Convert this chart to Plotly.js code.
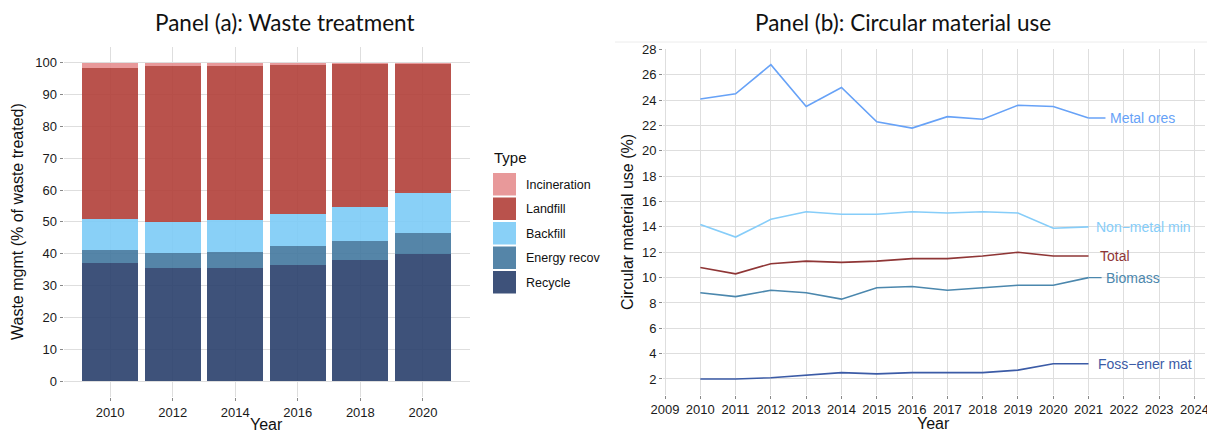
<!DOCTYPE html>
<html>
<head>
<meta charset="utf-8">
<script src="https://cdn.plot.ly/plotly-3.0.1.min.js"></script>
<style>
  html, body { margin: 0; padding: 0; background: #ffffff; }
  #chart { width: 1207px; height: 432px; }
</style>
</head>
<body>
<div id="chart"></div>
<script>
// ---- Panel (a): waste treatment shares (% of waste treated) ----
const wasteYears = [2010, 2012, 2014, 2016, 2018, 2020];
const recycle      = [37.0, 35.4, 35.4, 36.5, 37.9, 39.9];
const energyRecov  = [4.1, 4.7, 5.0, 5.9, 6.0, 6.5];
const backfill     = [9.8, 10.0, 10.3, 10.2, 10.9, 12.7];
const landfill     = [47.4, 48.8, 48.3, 46.8, 44.7, 40.6];
const incineration = [1.7, 1.1, 1.0, 0.6, 0.5, 0.3];
const wasteTypes = ["Incineration", "Landfill", "Backfill", "Energy recov", "Recycle"];

// ---- Panel (b): circular material use rate (%) ----
const cmuYears = [2010, 2011, 2012, 2013, 2014, 2015, 2016, 2017, 2018, 2019, 2020, 2021];
const metalOres   = [24.1, 24.5, 26.8, 23.5, 25.0, 22.3, 21.8, 22.7, 22.5, 23.6, 23.5, 22.6];
const nonMetalMin = [14.2, 13.2, 14.6, 15.2, 15.0, 15.0, 15.2, 15.1, 15.2, 15.1, 13.9, 14.0];
const totalCmu    = [10.8, 10.3, 11.1, 11.3, 11.2, 11.3, 11.5, 11.5, 11.7, 12.0, 11.7, 11.7];
const biomass     = [8.8, 8.5, 9.0, 8.8, 8.3, 9.2, 9.3, 9.0, 9.2, 9.4, 9.4, 10.0];
const fossEnerMat = [2.0, 2.0, 2.1, 2.3, 2.5, 2.4, 2.5, 2.5, 2.5, 2.7, 3.2, 3.2];
const materialNames = ["Metal ores", "Non\u2212metal min", "Total", "Biomass", "Foss\u2212ener mat"];

// ---- styling ----
const W = 1207, H = 432;
const px = v => v / W;             // horizontal pixel -> paper fraction
const py = v => (H - v) / H;       // vertical pixel (from top) -> paper fraction
const FONT = "Liberation Sans, Arial, sans-serif";
const TITLE_FONT = "Lato, Open Sans, sans-serif";
const GRID = "#dedede";

const wasteColors = {
  "Incineration": "rgba(229,142,143,0.9)",
  "Landfill":     "rgba(177,63,57,0.9)",
  "Backfill":     "rgba(124,203,246,0.9)",
  "Energy recov": "rgba(66,120,158,0.9)",
  "Recycle":      "rgba(41,63,107,0.9)"
};
const wasteSeries = {
  "Incineration": incineration,
  "Landfill": landfill,
  "Backfill": backfill,
  "Energy recov": energyRecov,
  "Recycle": recycle
};

const lineColors = {
  "Metal ores": "#67a2f7",
  "Non\u2212metal min": "#86cdf9",
  "Total": "#8f3636",
  "Biomass": "#4b87ad",
  "Foss\u2212ener mat": "#3b5ba6"
};
const lineSeries = {
  "Metal ores": metalOres,
  "Non\u2212metal min": nonMetalMin,
  "Total": totalCmu,
  "Biomass": biomass,
  "Foss\u2212ener mat": fossEnerMat
};
// label placement to the right of the last point (years of offset) and leader length
const labelShift = {
  "Metal ores": 0.55, "Non\u2212metal min": 0.16, "Total": 0.27,
  "Biomass": 0.44, "Foss\u2212ener mat": 0.21
};
const leaderEnd = { "Metal ores": 2021.48, "Biomass": 2021.37 };

const traces = [];
// stacked bars, bottom to top
["Recycle", "Energy recov", "Backfill", "Landfill", "Incineration"].forEach(name => {
  traces.push({
    type: "bar", name: name, x: wasteYears, y: wasteSeries[name],
    width: 1.8, marker: { color: wasteColors[name], line: { width: 0 } },
    xaxis: "x", yaxis: "y", showlegend: false, hoverinfo: "x+y+name"
  });
});
// lines
materialNames.forEach(name => {
  traces.push({
    type: "scatter", mode: "lines", name: name, x: cmuYears, y: lineSeries[name],
    line: { color: lineColors[name], width: 1.6 },
    xaxis: "x2", yaxis: "y2", showlegend: false
  });
});

const annotations = [];
const shapes = [];

// titles
annotations.push({ text: "Panel (a): Waste treatment", xref: "paper", yref: "paper",
  x: px(285), y: py(23), xanchor: "center", yanchor: "middle", showarrow: false,
  font: { family: TITLE_FONT, size: 22.5, color: "#111" } });
annotations.push({ text: "Panel (b): Circular material use", xref: "paper", yref: "paper",
  x: px(903), y: py(23), xanchor: "center", yanchor: "middle", showarrow: false,
  font: { family: TITLE_FONT, size: 22.5, color: "#111" } });
shapes.push({ type: "line", xref: "paper", yref: "paper", x0: px(615), x1: 1, y0: py(42), y1: py(42),
  line: { color: "#ececec", width: 1 } });

// axis titles
annotations.push({ text: "Waste mgmt (% of waste treated)", xref: "paper", yref: "paper",
  x: px(18), y: py(222), textangle: -90, xanchor: "center", yanchor: "middle", showarrow: false,
  font: { family: FONT, size: 16, color: "#111" } });
annotations.push({ text: "Year", xref: "paper", yref: "paper",
  x: px(266), y: py(424), xanchor: "center", yanchor: "middle", showarrow: false,
  font: { family: FONT, size: 16, color: "#111" } });
annotations.push({ text: "Circular material use (%)", xref: "paper", yref: "paper",
  x: px(628), y: py(222), textangle: -90, xanchor: "center", yanchor: "middle", showarrow: false,
  font: { family: FONT, size: 16, color: "#111" } });
annotations.push({ text: "Year", xref: "paper", yref: "paper",
  x: px(933), y: py(423), xanchor: "center", yanchor: "middle", showarrow: false,
  font: { family: FONT, size: 16, color: "#111" } });

// legend for panel (a)
annotations.push({ text: "Type", xref: "paper", yref: "paper",
  x: px(492), y: py(158), xanchor: "left", yanchor: "middle", showarrow: false,
  font: { family: FONT, size: 15, color: "#111" } });
wasteTypes.forEach((name, i) => {
  const top = 173 + i * 24.5;
  shapes.push({ type: "rect", xref: "paper", yref: "paper",
    x0: px(493), x1: px(516), y0: py(top), y1: py(top + 22.5),
    fillcolor: wasteColors[name], line: { width: 0 } });
  annotations.push({ text: name, xref: "paper", yref: "paper",
    x: px(524), y: py(top + 11.5), xanchor: "left", yanchor: "middle", showarrow: false,
    font: { family: FONT, size: 12.5, color: "#111" } });
});

// direct labels at line ends for panel (b)
materialNames.forEach(name => {
  const vals = lineSeries[name];
  const lastX = cmuYears[cmuYears.length - 1];
  const lastY = vals[vals.length - 1];
  annotations.push({ text: name, xref: "x2", yref: "y2",
    x: lastX + labelShift[name], y: lastY, xanchor: "left", yanchor: "middle", showarrow: false,
    font: { family: FONT, size: 14, color: lineColors[name] } });
  if (leaderEnd[name]) {
    shapes.push({ type: "line", xref: "x2", yref: "y2", x0: lastX, x1: leaderEnd[name],
      y0: lastY, y1: lastY, line: { color: lineColors[name], width: 1.4 } });
  }
});

const axisCommon = {
  showgrid: true, gridcolor: GRID, gridwidth: 1, zeroline: false, showline: false,
  ticks: "outside", ticklen: 3, tickwidth: 1, tickcolor: "#888",
  ticklabeloverflow: "allow",
  tickfont: { family: FONT, size: 13, color: "#1a1a1a" }
};

const layout = {
  width: W, height: H,
  margin: { l: 0, r: 0, t: 0, b: 0, pad: 0 },
  paper_bgcolor: "#ffffff", plot_bgcolor: "#ffffff",
  barmode: "stack", bargap: 0,
  showlegend: false,
  xaxis: Object.assign({}, axisCommon, {
    domain: [px(63.5), px(469.5)], range: [2008.51, 2021.49],
    tickmode: "array", tickvals: wasteYears, ticktext: wasteYears.map(String), anchor: "y"
  }),
  yaxis: Object.assign({}, axisCommon, {
    domain: [py(397), py(46.8)], range: [-5, 105],
    tickmode: "linear", tick0: 0, dtick: 10, anchor: "x"
  }),
  xaxis2: Object.assign({}, axisCommon, {
    domain: [px(663), px(1205)], range: [2008.943, 2024.3],
    tickmode: "linear", tick0: 2009, dtick: 1, anchor: "y2"
  }),
  yaxis2: Object.assign({}, axisCommon, {
    domain: [py(394.7), py(49)], range: [0.76, 28.04],
    tickmode: "linear", tick0: 0, dtick: 2, anchor: "x2"
  }),
  annotations: annotations,
  shapes: shapes
};

Plotly.newPlot("chart", traces, layout, { displayModeBar: false, staticPlot: true });
</script>
</body>
</html>
